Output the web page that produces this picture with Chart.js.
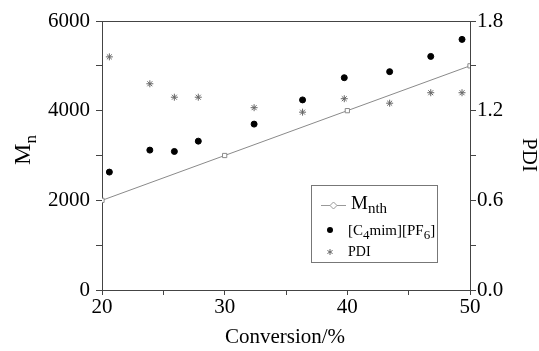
<!DOCTYPE html>
<html>
<head>
<meta charset="utf-8">
<script src="https://cdn.jsdelivr.net/npm/chart.js@4.4.1/dist/chart.umd.min.js"></script>
<style>
    html, body { margin: 0; padding: 0; background: #fff; }
    #wrap { width: 539px; height: 351px; }
</style>
</head>
<body>
<div id="wrap"><canvas id="mnChart" width="539" height="351"></canvas></div>
<script>
// conversion (%) of the measured samples
const conversion = [20.6, 23.9, 25.9, 27.85, 32.4, 36.35, 39.75, 43.45, 46.8, 49.35];
// Mn measured in [C4mim][PF6]
const mnValues = [2630, 3120, 3090, 3320, 3700, 4240, 4735, 4870, 5210, 5590];
// polydispersity index (right axis)
const pdiValues = [1.56, 1.38, 1.29, 1.29, 1.22, 1.19, 1.28, 1.25, 1.32, 1.32];
// theoretical Mn
const mnthConversion = [20, 30, 40, 50];
const mnthValues = [2000, 3000, 4000, 5000];

const serif = "'Liberation Serif', 'Times New Roman', serif";

function toPoints(xs, ys)
{
    return xs.map((x, i) => ({ x: x, y: ys[i] }));
}

// draws a run of text pieces, some as subscripts, starting at x
function drawRuns(ctx, runs, x, y, size, subSize, subDrop)
{
    let cx = x;
    runs.forEach(r => {
        ctx.font = (r.sub ? subSize : size) + "px " + serif;
        ctx.fillText(r.t, cx, r.sub ? y + subDrop : y);
        cx += ctx.measureText(r.t).width;
    });
    return cx - x;
}

function runsWidth(ctx, runs, size, subSize)
{
    let w = 0;
    runs.forEach(r => {
        ctx.font = (r.sub ? subSize : size) + "px " + serif;
        w += ctx.measureText(r.t).width;
    });
    return w;
}

const extrasPlugin = {
    id: 'extras',
    afterDraw(chart)
    {
        const ctx = chart.ctx;
        const area = chart.chartArea;
        ctx.save();

        // top frame line
        ctx.strokeStyle = '#444';
        ctx.lineWidth = 1;
        ctx.beginPath();
        ctx.moveTo(area.left, area.top + 0.5);
        ctx.lineTo(area.right, area.top + 0.5);
        ctx.stroke();

        ctx.fillStyle = '#000';
        ctx.textBaseline = 'alphabetic';

        // left title: Mn
        const mnRuns = [{ t: 'M' }, { t: 'n', sub: true }];
        const mnW = runsWidth(ctx, mnRuns, 24, 17);
        ctx.save();
        ctx.translate(30, 150);
        ctx.rotate(-Math.PI / 2);
        drawRuns(ctx, mnRuns, -mnW / 2, 0, 24, 17, 6);
        ctx.restore();

        // right title: PDI
        ctx.save();
        ctx.translate(523, 155);
        ctx.rotate(Math.PI / 2);
        ctx.font = "21px " + serif;
        ctx.textAlign = 'center';
        ctx.fillText('PDI', 0, 0);
        ctx.restore();

        // bottom title
        ctx.font = "21px " + serif;
        ctx.textAlign = 'center';
        ctx.fillText('Conversion/%', 285, 343);
        ctx.textAlign = 'left';

        // legend box
        ctx.strokeStyle = '#777';
        ctx.strokeRect(311.5, 185.5, 126, 77);

        // Mnth entry
        ctx.strokeStyle = '#999';
        ctx.beginPath();
        ctx.moveTo(321, 205.5);
        ctx.lineTo(346, 205.5);
        ctx.stroke();
        ctx.fillStyle = '#fff';
        ctx.beginPath();
        ctx.moveTo(333.5, 202);
        ctx.lineTo(337, 205.5);
        ctx.lineTo(333.5, 209);
        ctx.lineTo(330, 205.5);
        ctx.closePath();
        ctx.fill();
        ctx.stroke();
        ctx.fillStyle = '#000';
        drawRuns(ctx, [{ t: 'M' }, { t: 'nth', sub: true }], 351, 209, 19, 15, 4);

        // [C4mim][PF6] entry
        ctx.beginPath();
        ctx.arc(330, 230, 3, 0, Math.PI * 2);
        ctx.fill();
        drawRuns(ctx, [{ t: '[C' }, { t: '4', sub: true }, { t: 'mim][PF' }, { t: '6', sub: true }, { t: ']' }],
            348, 235, 15, 13, 4);

        // PDI entry
        ctx.strokeStyle = '#666';
        ctx.lineWidth = 1;
        for (let k = 0; k < 3; k++)
        {
            const a = Math.PI / 2 + k * Math.PI / 3;
            ctx.beginPath();
            ctx.moveTo(330 + 3 * Math.cos(a), 252 + 3 * Math.sin(a));
            ctx.lineTo(330 - 3 * Math.cos(a), 252 - 3 * Math.sin(a));
            ctx.stroke();
        }
        ctx.font = "14px " + serif;
        ctx.fillText('PDI', 348, 256);

        ctx.restore();
    }
};

const tickFont = { family: serif, size: 21 };

new Chart(document.getElementById('mnChart').getContext('2d'), {
    type: 'scatter',
    data: {
        datasets: [
            {
                label: 'Mnth',
                data: toPoints(mnthConversion, mnthValues),
                showLine: true,
                borderColor: '#8a8a8a',
                borderWidth: 1,
                pointStyle: 'rect',
                pointRadius: 3,
                pointBackgroundColor: '#fff',
                pointBorderColor: '#8a8a8a',
                yAxisID: 'y',
                order: 3
            },
            {
                label: '[C4mim][PF6]',
                data: toPoints(conversion, mnValues),
                pointStyle: 'circle',
                pointRadius: 3,
                pointBackgroundColor: '#000',
                pointBorderColor: '#000',
                yAxisID: 'y',
                order: 1
            },
            {
                label: 'PDI',
                data: toPoints(conversion, pdiValues),
                pointStyle: 'star',
                pointRadius: 3.5,
                pointBorderWidth: 1,
                pointBorderColor: '#666',
                yAxisID: 'y2',
                order: 2
            }
        ]
    },
    options: {
        responsive: false,
        animation: false,
        layout: { padding: { top: 21, left: 0, right: 0, bottom: 0 } },
        plugins: {
            legend: { display: false },
            tooltip: { enabled: false }
        },
        scales: {
            x: {
                type: 'linear',
                position: 'bottom',
                min: 20,
                max: 50,
                afterFit: (s) => { s.height = 61; },
                ticks: {
                    stepSize: 5,
                    color: '#000',
                    font: tickFont,
                    padding: 0,
                    maxRotation: 0,
                    callback: (v) => (v % 10 === 0 ? v : '')
                },
                grid: { drawOnChartArea: false, tickLength: 5, color: '#444' },
                border: { color: '#444' }
            },
            y: {
                position: 'left',
                min: 0,
                max: 6000,
                afterFit: (s) => { s.width = 102; },
                ticks: {
                    stepSize: 1000,
                    color: '#000',
                    font: tickFont,
                    padding: 6,
                    callback: (v) => (v % 2000 === 0 ? v : '')
                },
                grid: { drawOnChartArea: false, tickLength: 6, color: '#444' },
                border: { color: '#444' }
            },
            y2: {
                position: 'right',
                min: 0,
                max: 1.8,
                afterFit: (s) => { s.width = 69; },
                ticks: {
                    stepSize: 0.3,
                    color: '#000',
                    font: tickFont,
                    padding: 1,
                    callback: (v) => (Math.round(v * 10) % 6 === 0 ? v.toFixed(1) : '')
                },
                grid: { drawOnChartArea: false, tickLength: 6, color: '#444' },
                border: { color: '#444' }
            }
        }
    },
    plugins: [extrasPlugin]
});
</script>
</body>
</html>
